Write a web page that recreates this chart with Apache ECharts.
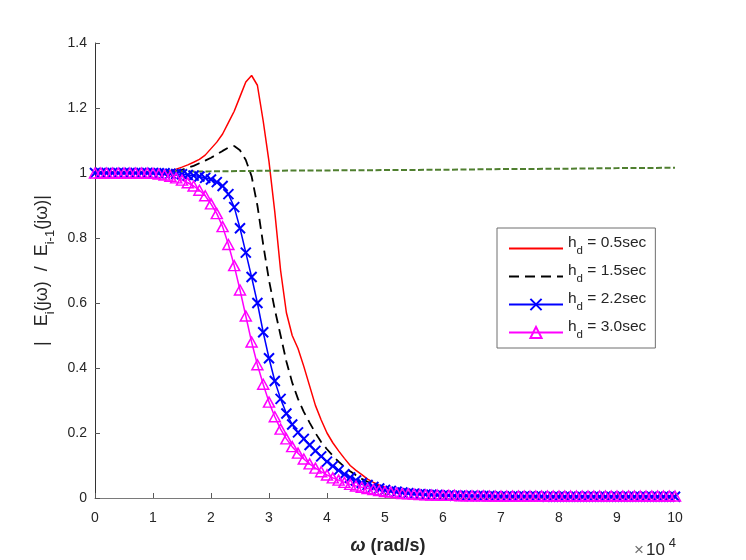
<!DOCTYPE html>
<html>
<head>
<meta charset="utf-8">
<script src="https://cdn.jsdelivr.net/npm/echarts@6/dist/echarts.min.js"></script>
<style>
  html, body { margin: 0; padding: 0; background: #fff; }
</style>
</head>
<body>
<div id="main" style="width: 746px;height:560px;"></div>
<script type="text/javascript">
    // omega grid (x 10^4 rad/s)
    var omega = [
        0.0, 0.1, 0.2, 0.3, 0.4, 0.5, 0.6, 0.7, 0.8, 0.9,
        1.0, 1.1, 1.2, 1.3, 1.4, 1.5, 1.6, 1.7, 1.8, 1.9,
        2.0, 2.1, 2.2, 2.3, 2.4, 2.5, 2.6, 2.7, 2.8, 2.9,
        3.0, 3.1, 3.2, 3.3, 3.4, 3.5, 3.6, 3.7, 3.8, 3.9,
        4.0, 4.1, 4.2, 4.3, 4.4, 4.5, 4.6, 4.7, 4.8, 4.9,
        5.0, 5.1, 5.2, 5.3, 5.4, 5.5, 5.6, 5.7, 5.8, 5.9,
        6.0, 6.1, 6.2, 6.3, 6.4, 6.5, 6.6, 6.7, 6.8, 6.9,
        7.0, 7.1, 7.2, 7.3, 7.4, 7.5, 7.6, 7.7, 7.8, 7.9,
        8.0, 8.1, 8.2, 8.3, 8.4, 8.5, 8.6, 8.7, 8.8, 8.9,
        9.0, 9.1, 9.2, 9.3, 9.4, 9.5, 9.6, 9.7, 9.8, 9.9,
        10.0
    ];

    // h_d = 0.5sec
    var hd05 = [
        1.000, 1.000, 1.000, 1.000, 1.000, 1.000, 1.000, 1.000, 1.000, 1.000,
        1.000, 1.001, 1.003, 1.007, 1.012, 1.018, 1.025, 1.033, 1.042, 1.055,
        1.075, 1.095, 1.120, 1.155, 1.190, 1.235, 1.280, 1.300, 1.270, 1.160,
        1.035, 0.880, 0.700, 0.570, 0.500, 0.460, 0.405, 0.345, 0.285, 0.240,
        0.200, 0.170, 0.145, 0.122, 0.100, 0.085, 0.072, 0.058, 0.048, 0.040,
        0.033, 0.028, 0.024, 0.021, 0.018, 0.016, 0.014, 0.012, 0.011, 0.010,
        0.009, 0.009, 0.008, 0.008, 0.007, 0.007, 0.007, 0.006, 0.006, 0.006,
        0.006, 0.005, 0.005, 0.005, 0.005, 0.005, 0.005, 0.005, 0.005, 0.005,
        0.004, 0.004, 0.004, 0.004, 0.004, 0.004, 0.004, 0.004, 0.004, 0.004,
        0.004, 0.004, 0.004, 0.004, 0.004, 0.004, 0.004, 0.004, 0.004, 0.004,
        0.004
    ];

    // h_d = 1.5sec
    var hd15 = [
        1.000, 1.000, 1.000, 1.000, 1.000, 1.000, 1.000, 1.000, 1.000, 1.000,
        1.000, 1.000, 1.001, 1.003, 1.006, 1.010, 1.016, 1.022, 1.030, 1.038,
        1.047, 1.057, 1.068, 1.078, 1.083, 1.070, 1.040, 0.990, 0.900, 0.780,
        0.670, 0.580, 0.500, 0.420, 0.355, 0.305, 0.265, 0.232, 0.200, 0.172,
        0.150, 0.130, 0.112, 0.096, 0.082, 0.070, 0.059, 0.050, 0.042, 0.036,
        0.030, 0.026, 0.022, 0.019, 0.016, 0.014, 0.012, 0.011, 0.010, 0.009,
        0.008, 0.008, 0.007, 0.007, 0.007, 0.006, 0.006, 0.006, 0.006, 0.005,
        0.005, 0.005, 0.005, 0.005, 0.005, 0.005, 0.005, 0.005, 0.004, 0.004,
        0.004, 0.004, 0.004, 0.004, 0.004, 0.004, 0.004, 0.004, 0.004, 0.004,
        0.004, 0.004, 0.004, 0.004, 0.004, 0.004, 0.004, 0.004, 0.004, 0.004,
        0.004
    ];

    // h_d = 2.2sec
    var hd22 = [
        1.000, 1.000, 1.000, 1.000, 1.000, 1.000, 1.000, 1.000, 1.000, 1.000,
        1.000, 0.999, 0.999, 0.998, 0.997, 0.996, 0.994, 0.992, 0.989, 0.985,
        0.980, 0.972, 0.960, 0.935, 0.895, 0.830, 0.755, 0.680, 0.600, 0.510,
        0.430, 0.360, 0.305, 0.260, 0.226, 0.202, 0.182, 0.163, 0.145, 0.128,
        0.112, 0.098, 0.085, 0.073, 0.063, 0.054, 0.046, 0.040, 0.034, 0.029,
        0.025, 0.022, 0.019, 0.017, 0.015, 0.013, 0.012, 0.011, 0.010, 0.009,
        0.008, 0.008, 0.007, 0.007, 0.007, 0.006, 0.006, 0.006, 0.006, 0.005,
        0.005, 0.005, 0.005, 0.005, 0.005, 0.005, 0.005, 0.005, 0.004, 0.004,
        0.004, 0.004, 0.004, 0.004, 0.004, 0.004, 0.004, 0.004, 0.004, 0.004,
        0.004, 0.004, 0.004, 0.004, 0.004, 0.004, 0.004, 0.004, 0.004, 0.004,
        0.004
    ];

    // h_d = 3.0sec
    var hd30 = [
        1.000, 1.000, 1.000, 1.000, 1.000, 1.000, 1.000, 1.000, 1.000, 1.000,
        0.999, 0.997, 0.994, 0.990, 0.985, 0.978, 0.970, 0.960, 0.947, 0.930,
        0.905, 0.875, 0.835, 0.780, 0.715, 0.640, 0.560, 0.480, 0.410, 0.350,
        0.295, 0.250, 0.212, 0.182, 0.158, 0.138, 0.120, 0.105, 0.092, 0.081,
        0.071, 0.062, 0.055, 0.048, 0.042, 0.037, 0.033, 0.029, 0.026, 0.023,
        0.020, 0.018, 0.016, 0.014, 0.013, 0.012, 0.011, 0.010, 0.009, 0.009,
        0.008, 0.008, 0.008, 0.007, 0.007, 0.007, 0.007, 0.007, 0.006, 0.006,
        0.006, 0.006, 0.006, 0.006, 0.006, 0.006, 0.006, 0.006, 0.006, 0.006,
        0.006, 0.006, 0.006, 0.006, 0.006, 0.006, 0.006, 0.006, 0.006, 0.006,
        0.006, 0.006, 0.006, 0.006, 0.006, 0.006, 0.006, 0.006, 0.006, 0.006,
        0.006
    ];

    // reference curve (green dashed, no legend entry)
    var refX = [0, 1, 2, 3, 4, 5, 6, 7, 8, 9, 10];
    var refY = [1.003, 1.004, 1.005, 1.007, 1.008, 1.009, 1.010, 1.012, 1.013, 1.015, 1.016];

    var legendNames = ['0.5', '1.5', '2.2', '3.0'];
    var xTicks = [0, 10, 1];       // min, max, interval
    var yTicks = [0, 1.4, 0.2];

    function pairs(xs, ys) {
        return xs.map(function (x, i) { return [x, ys[i]]; });
    }

    var FONT = "Arial, 'Liberation Sans', Helvetica, sans-serif";
    var TXT = '#262626';
    var HIDDEN = {color: 'rgba(0,0,0,0)', borderColor: 'rgba(0,0,0,0)', borderWidth: 0};

    var myChart = echarts.init(document.getElementById('main'));

    var option = {
        animation: false,
        backgroundColor: '#ffffff',
        textStyle: {fontFamily: FONT},
        grid: {left: 95, right: 71, top: 43, bottom: 62},
        legend: {
            orient: 'vertical',
            left: 497,
            top: 228,
            padding: [7, 9, 7, 11],
            itemGap: 6,
            itemWidth: 54,
            itemHeight: 14,
            borderColor: '#6e6e6e',
            borderWidth: 1,
            backgroundColor: '#ffffff',
            data: legendNames.map(function (n, i) {
                var item = {name: 'h_d = ' + n + 'sec'};
                // solid and dashed lines have no marker in the legend
                if (i < 2) item.itemStyle = HIDDEN;
                return item;
            }),
            formatter: function (name) {
                var rest = name.replace('h_d', '');
                return '{m|h}{s|d}{m|' + rest + '}';
            },
            textStyle: {
                color: TXT,
                rich: {
                    m: {fontSize: 15.5, fontFamily: FONT, color: TXT, lineHeight: 17, padding: [0, 0, 6, 0], verticalAlign: 'bottom'},
                    s: {fontSize: 11.5, fontFamily: FONT, color: TXT, lineHeight: 13, verticalAlign: 'bottom'}
                }
            }
        },
        graphic: [{
            type: 'text',
            left: 634,
            top: 537,
            style: {
                text: '{x|\u00d7}{a|10}{b|4}',
                rich: {
                    x: {fontSize: 17, fontFamily: FONT, fill: '#6f6f6f', verticalAlign: 'bottom', lineHeight: 19, padding: [0, 2, 0, 0]},
                    a: {fontSize: 17, fontFamily: FONT, fill: TXT, verticalAlign: 'bottom', lineHeight: 19},
                    b: {fontSize: 13, fontFamily: FONT, fill: TXT, verticalAlign: 'bottom', lineHeight: 15, padding: [0, 0, 9, 4]}
                }
            }
        }],
        xAxis: {
            type: 'value',
            min: xTicks[0],
            max: xTicks[1],
            interval: xTicks[2],
            name: '{w|\u03c9} (rad/s)',
            nameLocation: 'middle',
            nameGap: 39,
            nameTextStyle: {
                fontSize: 18,
                fontWeight: 'bold',
                color: TXT,
                fontFamily: FONT,
                padding: [0, 0, 0, 6],
                rich: {
                    w: {fontSize: 18, fontStyle: 'italic', color: TXT, fontFamily: FONT}
                }
            },
            axisLine: {show: true, onZero: false, lineStyle: {color: '#7a7a7a', width: 1}},
            axisTick: {show: true, inside: true, length: 5, lineStyle: {color: '#5a5a5a'}},
            axisLabel: {fontSize: 14, color: TXT, margin: 13, fontFamily: FONT},
            splitLine: {show: false}
        },
        yAxis: {
            type: 'value',
            min: yTicks[0],
            max: yTicks[1],
            interval: yTicks[2],
            name: '{m||   E}{s|i}{m|(j\u03c9)  /  E}{s|i-1}{m|(j\u03c9)|}',
            nameLocation: 'middle',
            nameRotate: 90,
            nameGap: 37,
            nameTextStyle: {
                color: TXT,
                rich: {
                    m: {fontSize: 18, fontFamily: FONT, color: TXT, lineHeight: 20, padding: [0, 0, 6, 0], verticalAlign: 'bottom'},
                    s: {fontSize: 13, fontFamily: FONT, color: TXT, lineHeight: 15, verticalAlign: 'bottom'}
                }
            },
            axisLine: {show: true, onZero: false, lineStyle: {color: '#333333', width: 1}},
            axisTick: {show: true, inside: true, length: 5, lineStyle: {color: '#555555'}},
            axisLabel: {fontSize: 14, color: TXT, margin: 8, fontFamily: FONT},
            splitLine: {show: false}
        },
        series: [
            {
                name: 'h_d = 0.5sec',
                type: 'line',
                data: pairs(omega, hd05),
                showSymbol: false,
                symbol: 'none',
                clip: false,
                lineStyle: {color: '#ff0000', width: 1.5},
                itemStyle: {color: '#ff0000'}
            },
            {
                name: 'h_d = 1.5sec',
                type: 'line',
                data: pairs(omega, hd15),
                showSymbol: false,
                symbol: 'none',
                clip: false,
                lineStyle: {color: '#000000', width: 1.8, type: [10, 6]},
                itemStyle: {color: '#000000'}
            },
            {
                name: 'h_d = 2.2sec',
                type: 'line',
                data: pairs(omega, hd22),
                symbol: 'path://M0,0L10,10M10,0L0,10',
                symbolSize: 10,
                showAllSymbol: true,
                clip: false,
                lineStyle: {color: '#0000ff', width: 1.5},
                itemStyle: {color: 'rgba(0,0,0,0)', borderColor: '#0000ff', borderWidth: 2}
            },
            {
                name: 'h_d = 3.0sec',
                type: 'line',
                data: pairs(omega, hd30),
                symbol: 'triangle',
                symbolSize: [11, 10],
                showAllSymbol: true,
                clip: false,
                lineStyle: {color: '#ff00ff', width: 1.5},
                itemStyle: {color: 'rgba(0,0,0,0)', borderColor: '#ff00ff', borderWidth: 1.5}
            },
            {
                name: 'ref',
                type: 'line',
                data: pairs(refX, refY),
                showSymbol: false,
                symbol: 'none',
                clip: false,
                lineStyle: {color: '#4f7f2f', width: 2, type: [6, 2.5]},
                itemStyle: {color: '#4f7f2f'}
            }
        ]
    };

    myChart.setOption(option);
</script>
</body>
</html>
